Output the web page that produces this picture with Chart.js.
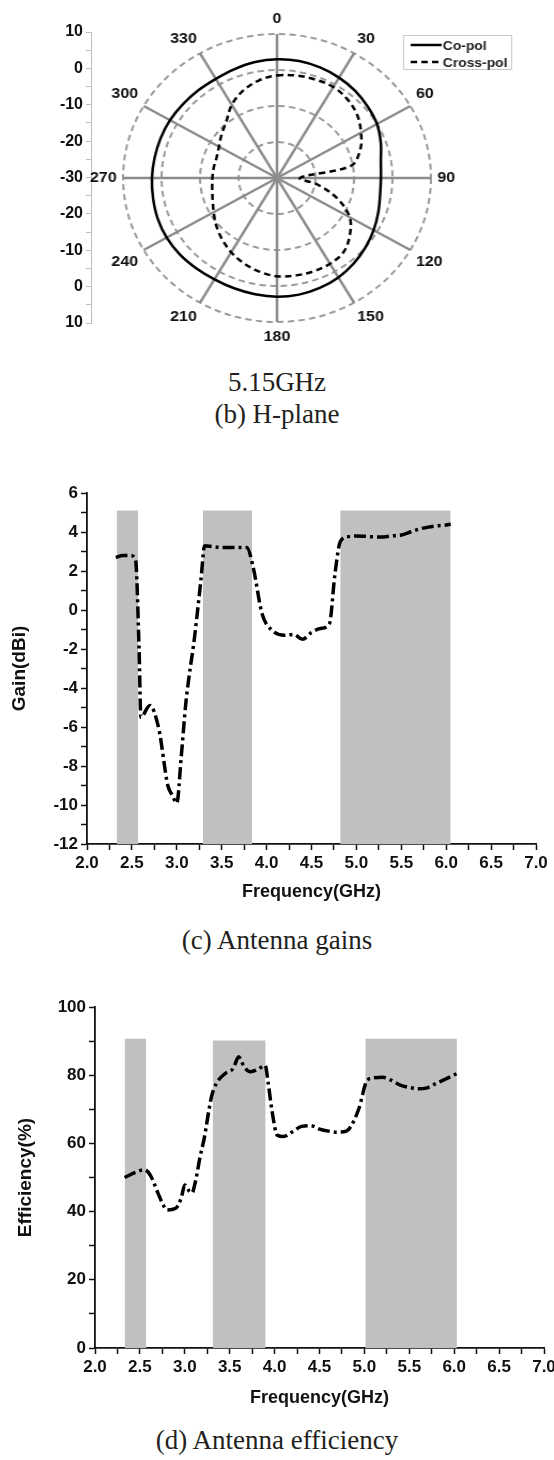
<!DOCTYPE html>
<html>
<head>
<meta charset="utf-8">
<script src="https://cdn.jsdelivr.net/npm/chart.js@4.4.1/dist/chart.umd.min.js"></script>
<style>
  html, body { margin: 0; padding: 0; background: #fff; }
  body { width: 554px; height: 1460px; position: relative; overflow: hidden; }
  .box { position: absolute; }
  .caption {
    position: absolute; left: 0; width: 554px; text-align: center;
    font-family: "Liberation Serif", "Times New Roman", serif;
    font-size: 27px; line-height: 32px; color: #231f20;
  }
</style>
</head>
<body>
<div class="box" style="left:0;top:0;width:100px;height:350px"><canvas id="polarAxis"></canvas></div>
<div class="box" style="left:47px;top:10px;width:460px;height:336px;transform:scaleX(1.069)"><canvas id="polar"></canvas></div>
<div class="caption" style="top:366px">5.15GHz</div>
<div class="caption" style="top:398px">(b) H-plane</div>

<div class="box" style="left:0;top:470px;width:554px;height:433px"><canvas id="gain"></canvas></div>
<div class="caption" style="top:924px">(c) Antenna gains</div>

<div class="box" style="left:0;top:980px;width:570px;height:429px"><canvas id="eff"></canvas></div>
<div class="caption" style="top:1424px">(d) Antenna efficiency</div>

<script>
// H-plane pattern at 5.15 GHz, dB every 10 degrees
const angleDeg = [0, 10, 20, 30, 40, 50, 60, 70, 80, 90, 100, 110, 120, 130, 140, 150, 160, 170,
  180, 190, 200, 210, 220, 230, 240, 250, 260, 270, 280, 290, 300, 310, 320, 330, 340, 350];
const coPol = [3.0, 3.0, 2.7, 2.2, 1.6, 0.8, 0.0, -1.3, -2.6, -3.0, -2.8, -2.0, -1.0, 0.0, 1.0, 1.9, 2.5, 2.9,
  3.0, 2.8, 2.6, 2.5, 2.7, 3.0, 3.1, 3.0, 2.7, 2.5, 2.3, 2.2, 2.1, 1.9, 1.8, 1.8, 2.2, 2.7];
const crossPol = [-1.5, -1.1, -0.9, -0.8, -1.5, -2.8, -4.8, -7.0, -10.5, -24.0, -19.2, -13.3, -8.2, -5.3, -3.1, -2.5, -2.4, -2.5,
  -2.7, -3.6, -4.8, -6.2, -7.8, -9.4, -11.0, -12.2, -12.9, -13.2, -13.3, -13.3, -12.6, -11.2, -9.5, -6.5, -4.2, -2.5];

// antenna gain vs frequency
const gainFreq = [2.32, 2.4, 2.48, 2.54, 2.58, 2.6, 2.7, 2.8, 2.9, 2.95, 3.0, 3.05, 3.1, 3.2, 3.27, 3.31,
  3.4, 3.5, 3.6, 3.7, 3.78, 3.85, 3.95, 4.05, 4.2, 4.3, 4.4, 4.5, 4.6, 4.7, 4.76, 4.82, 4.9,
  5.0, 5.1, 5.2, 5.3, 5.4, 5.5, 5.6, 5.7, 5.8, 5.9, 6.0, 6.05];
const gainDbi = [2.7, 2.8, 2.8, 2.6, -2.0, -5.5, -4.9, -6.1, -9.0, -9.5, -9.9, -7.5, -4.8, -1.3, 1.6, 3.3,
  3.25, 3.2, 3.2, 3.2, 3.2, 2.2, -0.2, -1.0, -1.3, -1.25, -1.5, -1.15, -0.95, -0.7, 1.8, 3.5, 3.75,
  3.8, 3.78, 3.75, 3.75, 3.8, 3.85, 4.0, 4.15, 4.25, 4.32, 4.36, 4.4];
const gainBandStart = [2.33, 3.29, 4.82];
const gainBandEnd = [2.57, 3.84, 6.05];
const gainBandTop = [5.1, 5.1, 5.1];

// radiation efficiency vs frequency
const effFreq = [2.33, 2.45, 2.55, 2.62, 2.7, 2.75, 2.8, 2.9, 2.96, 3.0, 3.05, 3.08, 3.12, 3.17, 3.22, 3.27,
  3.3, 3.35, 3.45, 3.54, 3.6, 3.66, 3.73, 3.82, 3.895, 3.93, 3.97, 4.03, 4.1, 4.2, 4.3, 4.4, 4.5,
  4.6, 4.7, 4.8, 4.85, 4.94, 5.03, 5.1, 5.2, 5.3, 5.4, 5.5, 5.6, 5.7, 5.8, 5.9, 6.03];
const effPct = [50.0, 51.5, 52.3, 50.5, 45.5, 42.5, 40.5, 41.0, 44.0, 47.8, 46.0, 45.5, 49.0, 56.0, 62.0, 70.0,
  74.0, 77.5, 80.5, 82.0, 85.4, 82.5, 81.0, 81.8, 82.9, 77.5, 69.7, 62.4, 62.0, 63.4, 65.0, 65.2, 64.2,
  63.6, 63.3, 63.6, 65.0, 70.3, 78.5, 79.2, 79.4, 78.5, 77.1, 76.4, 76.0, 76.3, 77.6, 78.8, 80.5];
const effBandStart = [2.33, 3.31, 5.01];
const effBandEnd = [2.57, 3.9, 6.03];
const effBandTop = [90.7, 90.2, 90.7];

const SANS = '"Liberation Sans", Arial, sans-serif';
const boldFont = (size) => ({ family: SANS, size: size, weight: 'bold' });

// legend box in the upper right of the polar plot
const polarLegend = {
  id: 'polarLegend',
  afterDraw(chart) {
    const ctx = chart.ctx;
    const x = 348, y = 25, w = 101, h = 34;
    ctx.save();
    ctx.strokeStyle = '#c8c8c8';
    ctx.lineWidth = 1;
    ctx.strokeRect(x + 0.5, y + 0.5, w, h);
    chart.data.datasets.forEach((ds, i) => {
      const ly = y + 10 + i * 17;
      ctx.beginPath();
      ctx.setLineDash(ds.borderDash || []);
      ctx.lineWidth = 2.5;
      ctx.strokeStyle = ds.borderColor;
      ctx.moveTo(x + 7, ly);
      ctx.lineTo(x + 36, ly);
      ctx.stroke();
      ctx.setLineDash([]);
      ctx.fillStyle = '#222';
      ctx.font = 'bold 13px ' + SANS;
      ctx.textBaseline = 'middle';
      ctx.fillText(ds.label, x + 37, ly + 1);
    });
    ctx.restore();
  }
};

// left-hand dB ruler of the polar plot: 10 at both ends, -30 at the centre
new Chart(document.getElementById('polarAxis'), {
  type: 'line',
  data: { datasets: [] },
  options: {
    responsive: true, maintainAspectRatio: false, animation: false,
    layout: { padding: { top: 32, bottom: 27 } },
    plugins: { legend: { display: false }, tooltip: { enabled: false } },
    scales: {
      x: { display: false },
      y: {
        min: -40, max: 40,
        afterFit: (s) => { s.width = 91; },
        ticks: {
          stepSize: 5, autoSkip: false, padding: 3, color: '#111', font: boldFont(16),
          callback: (v) => (v % 10 === 0 ? String(Math.abs(v) - 30) : '')
        },
        grid: { drawOnChartArea: false, tickLength: 5, color: '#bdbdbd' },
        border: { color: '#bdbdbd', width: 1 }
      }
    }
  }
});

new Chart(document.getElementById('polar'), {
  type: 'radar',
  data: {
    labels: angleDeg.map(String),
    datasets: [
      { label: 'Co-pol', data: coPol, borderColor: '#000', borderWidth: 2.5, pointRadius: 0, tension: 0.35, fill: false },
      { label: 'Cross-pol', data: crossPol, borderColor: '#000', borderWidth: 2.5, borderDash: [6, 4], pointRadius: 0, tension: 0.35, fill: false }
    ]
  },
  options: {
    responsive: true, maintainAspectRatio: false, animation: false,
    plugins: { legend: { display: false }, tooltip: { enabled: false } },
    scales: {
      r: {
        min: -30, max: 10,
        ticks: { display: false, stepSize: 10 },
        grid: { circular: true, color: '#9a9a9a', lineWidth: 2 },
        border: { dash: [6, 4] },
        angleLines: {
          color: (c) => (c.index % 3 === 0 ? '#8c8c8c' : 'rgba(0,0,0,0)'),
          lineWidth: (c) => (c.index % 3 === 0 ? 2.5 : 0)
        },
        pointLabels: {
          callback: (label, i) => (i % 3 === 0 ? label : ''),
          font: boldFont(15), color: '#111', padding: 6
        }
      }
    }
  },
  plugins: [polarLegend]
});

function bandSets(starts, ends, tops, floor) {
  return starts.map((s, i) => ({
    data: [{ x: s, y: tops[i] }, { x: ends[i], y: tops[i] }],
    borderWidth: 0, pointRadius: 0, backgroundColor: '#c0c0c0',
    fill: { value: floor }, order: 2
  }));
}

function freqChart(id, opts) {
  const curve = {
    data: opts.freq.map((f, i) => ({ x: f, y: opts.vals[i] })),
    borderColor: '#000', borderWidth: 3.5, borderDash: [12, 4, 3, 4],
    pointRadius: 0, cubicInterpolationMode: 'monotone', fill: false, order: 1
  };
  return new Chart(document.getElementById(id), {
    type: 'line',
    data: { datasets: bandSets(opts.bandStart, opts.bandEnd, opts.bandTop, opts.yMin).concat([curve]) },
    options: {
      responsive: true, maintainAspectRatio: false, animation: false,
      layout: { padding: opts.padding },
      plugins: { legend: { display: false }, tooltip: { enabled: false } },
      scales: {
        x: {
          type: 'linear', min: 2, max: 7,
          afterFit: (s) => { s.height = opts.xAxisHeight; },
          ticks: {
            stepSize: 0.25, autoSkip: false, maxRotation: 0, minRotation: 0, padding: 3,
            color: '#111', font: boldFont(17),
            callback: (v) => (Number.isInteger(Math.round(v * 100) / 50) ? v.toFixed(1) : '')
          },
          grid: { drawOnChartArea: false, tickLength: 6, color: '#111', tickWidth: 1.5 },
          border: { color: '#111', width: 1.8 },
          title: { display: true, text: 'Frequency(GHz)', color: '#111', font: boldFont(18), padding: { top: 0, bottom: 0 } }
        },
        y: {
          min: opts.yMin, max: opts.yMax,
          afterFit: (s) => { s.width = opts.yAxisWidth; },
          ticks: {
            stepSize: opts.minorStep, autoSkip: false, padding: 3, color: '#111', font: boldFont(17),
            callback: (v) => (v % opts.majorStep === 0 ? String(v) : '')
          },
          grid: { drawOnChartArea: false, tickLength: 6, color: '#111', tickWidth: 1.5 },
          border: { color: '#111', width: 1.8 },
          title: { display: true, text: opts.yTitle, color: '#111', font: boldFont(19), padding: { top: opts.yTitlePad, bottom: 0 } }
        }
      }
    }
  });
}

freqChart('gain', {
  freq: gainFreq, vals: gainDbi,
  bandStart: gainBandStart, bandEnd: gainBandEnd, bandTop: gainBandTop,
  yMin: -12, yMax: 6, minorStep: 1, majorStep: 2,
  yTitle: 'Gain(dBi)', yTitlePad: 8,
  yAxisWidth: 87, xAxisHeight: 59,
  padding: { top: 23, right: 18, left: 0, bottom: 0 }
});

freqChart('eff', {
  freq: effFreq, vals: effPct,
  bandStart: effBandStart, bandEnd: effBandEnd, bandTop: effBandTop,
  yMin: 0, yMax: 100, minorStep: 10, majorStep: 20,
  yTitle: 'Efficiency(%)', yTitlePad: 14,
  yAxisWidth: 95, xAxisHeight: 61,
  padding: { top: 27, right: 26, left: 0, bottom: 0 }
});
</script>
</body>
</html>
